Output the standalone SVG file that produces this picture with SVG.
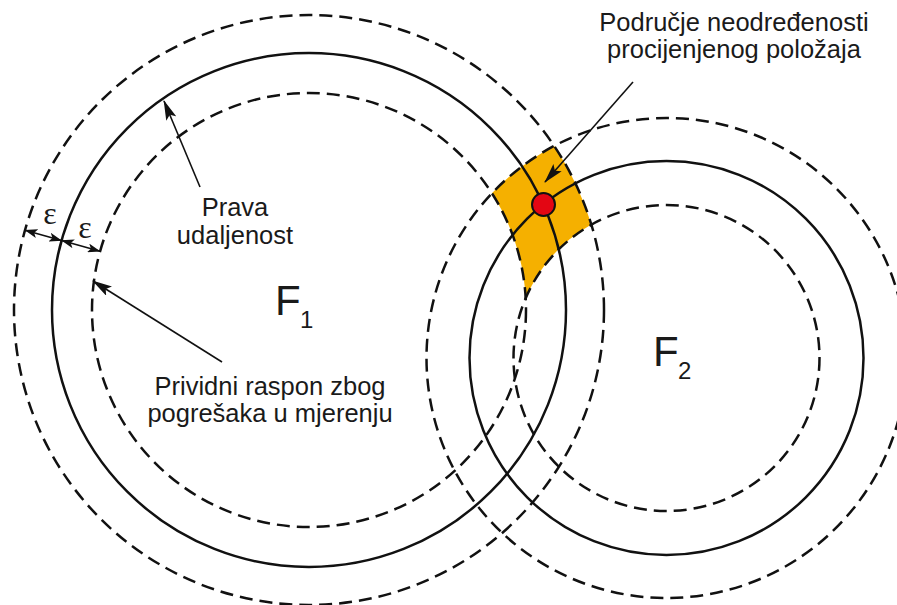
<svg xmlns="http://www.w3.org/2000/svg" width="897" height="605" viewBox="0 0 897 605">
  <style>
    .solid { fill: none; stroke: #111; stroke-width: 2.5; }
    .dash { fill: none; stroke: #111; stroke-width: 2.5; stroke-dasharray: 13 7; }
    .lbl { font-family: "Liberation Sans", Arial, sans-serif; font-size: 25.5px; fill: #1a1a1a; text-anchor: middle; }
    .big { font-family: "Liberation Sans", Arial, sans-serif; font-size: 42px; fill: #1a1a1a; }
    .sub { font-family: "Liberation Sans", Arial, sans-serif; font-size: 24px; fill: #1a1a1a; }
    .eps { font-family: "Liberation Serif", "Times New Roman", serif; font-size: 32px; fill: #1a1a1a; text-anchor: middle; }
    .arr { fill: none; stroke: #111; stroke-width: 1.6; }
  </style>
  <defs>
    <marker id="ah" viewBox="0 0 20 11" refX="19" refY="5.5" markerWidth="20" markerHeight="11" orient="auto" markerUnits="userSpaceOnUse">
      <path d="M0,0 L20,5.5 L0,11 L4,5.5 Z" fill="#111"/>
    </marker>
    <marker id="ahs" viewBox="0 0 13 9" refX="12.5" refY="4.5" markerWidth="13" markerHeight="9" orient="auto-start-reverse" markerUnits="userSpaceOnUse">
      <path d="M0,0 L13,4.5 L0,9 L3,4.5 Z" fill="#111"/>
    </marker>
  </defs>

  <g id="uncertainty-region">
    <path d="M491.9,193.3 A240,240 0 0 1 554.2,145.9 A295,295 0 0 1 591.4,224.6 A153,153 0 0 0 525.7,298.4 A217,217 0 0 0 491.9,193.3 Z" fill="#F5B000"/>
  </g>

  <g id="F1">
    <circle class="dash" cx="309" cy="310" r="295"/>
    <circle class="solid" cx="309" cy="310" r="257"/>
    <circle class="dash" cx="309" cy="310" r="217"/>
    <text class="big" x="275" y="315">F</text>
    <text class="sub" x="300" y="328">1</text>
  </g>

  <g id="F2">
    <circle class="dash" cx="666.5" cy="358" r="240"/>
    <circle class="solid" cx="666.5" cy="358" r="197"/>
    <circle class="dash" cx="666.5" cy="358" r="153"/>
    <text class="big" x="653" y="366">F</text>
    <text class="sub" x="678" y="379">2</text>
  </g>

  <g id="position">
    <circle cx="543.5" cy="204.5" r="11.5" fill="#E30613" stroke="#111" stroke-width="2"/>
  </g>

  <g id="connectors">
    <line class="arr" x1="200" y1="187" x2="164" y2="101" marker-end="url(#ah)"/>
    <line class="arr" x1="222" y1="362" x2="93" y2="281" marker-end="url(#ah)"/>
    <line class="arr" x1="633" y1="82" x2="545" y2="182" marker-end="url(#ah)"/>
    <line class="arr" x1="25" y1="230.2" x2="61.6" y2="240.5" marker-start="url(#ahs)" marker-end="url(#ahs)"/>
    <line class="arr" x1="61.6" y1="240.5" x2="100.1" y2="251.3" marker-start="url(#ahs)" marker-end="url(#ahs)"/>
  </g>

  <g id="labels">
    <text class="eps" x="50" y="224">ε</text>
    <text class="eps" x="85" y="238">ε</text>
    <text class="lbl" x="235" y="216">Prava</text>
    <text class="lbl" x="235" y="244">udaljenost</text>
    <text class="lbl" x="734" y="31">Područje neodređenosti</text>
    <text class="lbl" x="734" y="58">procijenjenog položaja</text>
    <text class="lbl" x="270" y="395">Prividni raspon zbog</text>
    <text class="lbl" x="270" y="422">pogrešaka u mjerenju</text>
  </g>
</svg>
